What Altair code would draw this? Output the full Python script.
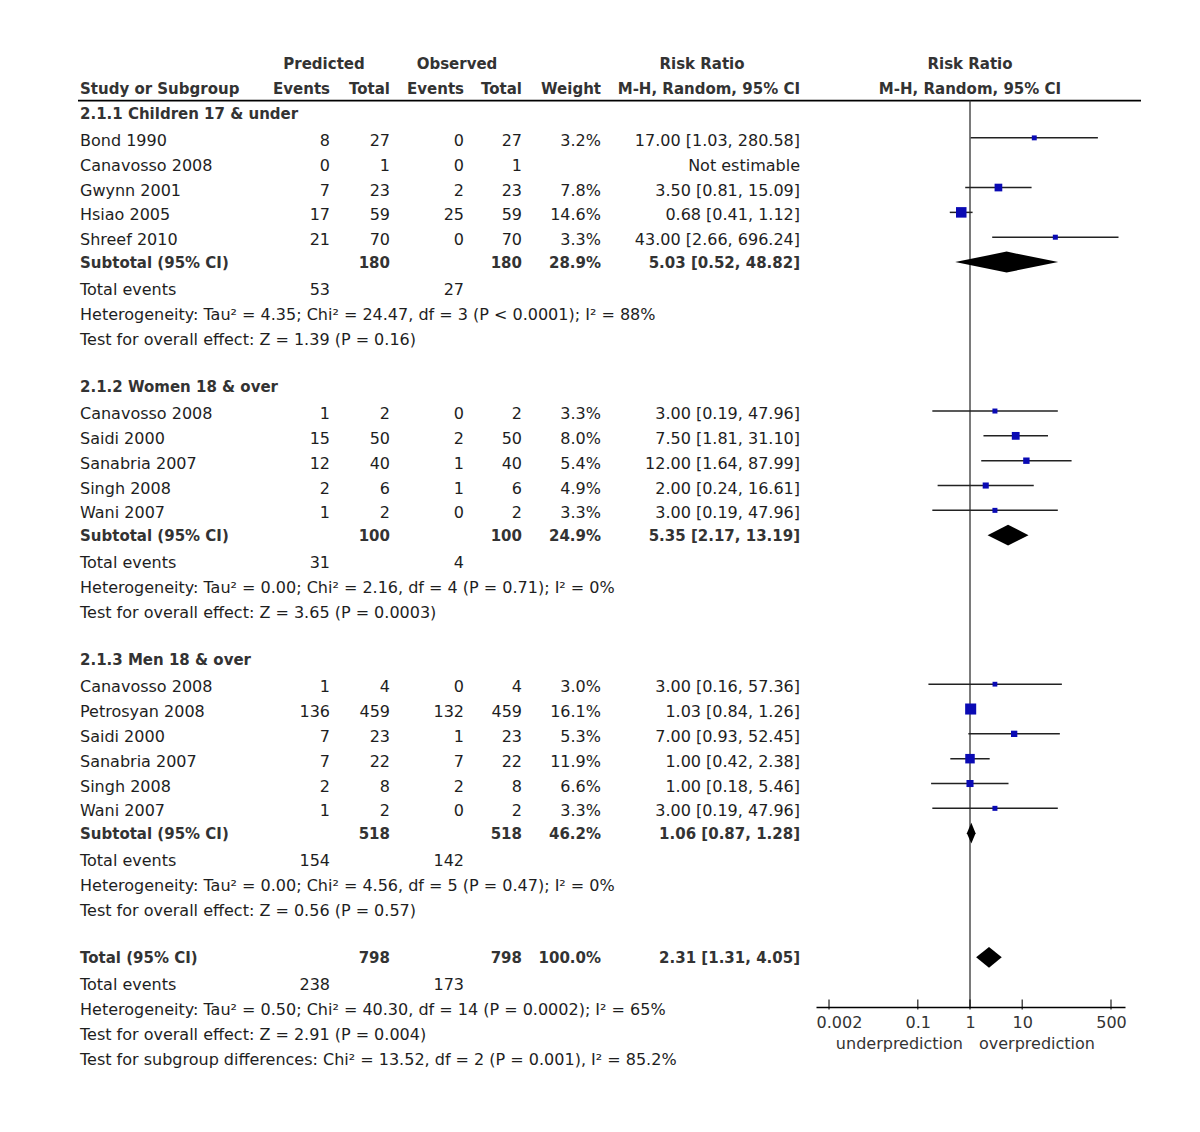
import altair as alt
import pandas as pd

# ------------------------------------------------------------------ data
group_names = ["2.1.1 Children 17 & under", "2.1.2 Women 18 & over", "2.1.3 Men 18 & over"]

children_studies = ["Bond 1990", "Canavosso 2008", "Gwynn 2001", "Hsiao 2005", "Shreef 2010"]
children_pred_events = [8, 0, 7, 17, 21]
children_pred_total = [27, 1, 23, 59, 70]
children_obs_events = [0, 0, 2, 25, 0]
children_obs_total = [27, 1, 23, 59, 70]
children_weight = [3.2, None, 7.8, 14.6, 3.3]
children_rr = [17.00, None, 3.50, 0.68, 43.00]
children_lo = [1.03, None, 0.81, 0.41, 2.66]
children_hi = [280.58, None, 15.09, 1.12, 696.24]

women_studies = ["Canavosso 2008", "Saidi 2000", "Sanabria 2007", "Singh 2008", "Wani 2007"]
women_pred_events = [1, 15, 12, 2, 1]
women_pred_total = [2, 50, 40, 6, 2]
women_obs_events = [0, 2, 1, 1, 0]
women_obs_total = [2, 50, 40, 6, 2]
women_weight = [3.3, 8.0, 5.4, 4.9, 3.3]
women_rr = [3.00, 7.50, 12.00, 2.00, 3.00]
women_lo = [0.19, 1.81, 1.64, 0.24, 0.19]
women_hi = [47.96, 31.10, 87.99, 16.61, 47.96]

men_studies = ["Canavosso 2008", "Petrosyan 2008", "Saidi 2000", "Sanabria 2007", "Singh 2008", "Wani 2007"]
men_pred_events = [1, 136, 7, 7, 2, 1]
men_pred_total = [4, 459, 23, 22, 8, 2]
men_obs_events = [0, 132, 1, 7, 2, 0]
men_obs_total = [4, 459, 23, 22, 8, 2]
men_weight = [3.0, 16.1, 5.3, 11.9, 6.6, 3.3]
men_rr = [3.00, 1.03, 7.00, 1.00, 1.00, 3.00]
men_lo = [0.16, 0.84, 0.93, 0.42, 0.18, 0.19]
men_hi = [57.36, 1.26, 52.45, 2.38, 5.46, 47.96]

subtotal_pred_total = [180, 100, 518]
subtotal_obs_total = [180, 100, 518]
subtotal_weight = [28.9, 24.9, 46.2]
subtotal_rr = [5.03, 5.35, 1.06]
subtotal_lo = [0.52, 2.17, 0.87]
subtotal_hi = [48.82, 13.19, 1.28]
subtotal_pred_events = [53, 31, 154]
subtotal_obs_events = [27, 4, 142]
subtotal_heterogeneity = [
    "Heterogeneity: Tau\u00b2 = 4.35; Chi\u00b2 = 24.47, df = 3 (P < 0.0001); I\u00b2 = 88%",
    "Heterogeneity: Tau\u00b2 = 0.00; Chi\u00b2 = 2.16, df = 4 (P = 0.71); I\u00b2 = 0%",
    "Heterogeneity: Tau\u00b2 = 0.00; Chi\u00b2 = 4.56, df = 5 (P = 0.47); I\u00b2 = 0%",
]
subtotal_effect = [
    "Test for overall effect: Z = 1.39 (P = 0.16)",
    "Test for overall effect: Z = 3.65 (P = 0.0003)",
    "Test for overall effect: Z = 0.56 (P = 0.57)",
]

overall_pred_total = 798
overall_obs_total = 798
overall_weight = 100.0
overall_rr = 2.31
overall_lo = 1.31
overall_hi = 4.05
overall_pred_events = 238
overall_obs_events = 173
overall_notes = [
    "Heterogeneity: Tau\u00b2 = 0.50; Chi\u00b2 = 40.30, df = 14 (P = 0.0002); I\u00b2 = 65%",
    "Test for overall effect: Z = 2.91 (P = 0.004)",
    "Test for subgroup differences: Chi\u00b2 = 13.52, df = 2 (P = 0.001), I\u00b2 = 85.2%",
]

tick_values = [0.002, 0.1, 1, 10, 500]
axis_side_labels = ["underprediction", "overprediction"]

# ------------------------------------------------------------------ tables
groups = [
    (children_studies, children_pred_events, children_pred_total, children_obs_events,
     children_obs_total, children_weight, children_rr, children_lo, children_hi),
    (women_studies, women_pred_events, women_pred_total, women_obs_events,
     women_obs_total, women_weight, women_rr, women_lo, women_hi),
    (men_studies, men_pred_events, men_pred_total, men_obs_events,
     men_obs_total, men_weight, men_rr, men_lo, men_hi),
]


def ci_text(rr, lo, hi):
    if rr is None:
        return "Not estimable"
    return f"{rr:.2f} [{lo:.2f}, {hi:.2f}]"


def wtxt(w):
    return "" if w is None else f"{w:.1f}%"


table_rows = []
study_points = []
diamonds = []


def add_row(row, label, pe="", pt="", oe="", ot="", w="", ci="", bold=False):
    table_rows.append(dict(row=row, label=label, pe=str(pe), pt=str(pt), oe=str(oe),
                           ot=str(ot), w=w, ci=ci, bold=bold))


def add_diamond(row, rr, lo, hi, half=0.42):
    diamonds.append(pd.DataFrame({
        "x": [lo, rr, hi],
        "ytop": [row, row - half, row],
        "ybot": [row, row + half, row],
    }))


r = 0
for gi, g in enumerate(groups):
    names, pe, pt, oe, ot, wt, rr, lo, hi = g
    add_row(r, group_names[gi], bold=True)
    r += 1
    for i in range(len(names)):
        add_row(r, names[i], pe[i], pt[i], oe[i], ot[i], wtxt(wt[i]), ci_text(rr[i], lo[i], hi[i]))
        if rr[i] is not None:
            study_points.append(dict(row=r, rr=rr[i], lo=lo[i], hi=hi[i], weight=wt[i]))
        r += 1
    add_row(r, "Subtotal (95% CI)", "", subtotal_pred_total[gi], "", subtotal_obs_total[gi],
            wtxt(subtotal_weight[gi]), ci_text(subtotal_rr[gi], subtotal_lo[gi], subtotal_hi[gi]), bold=True)
    add_diamond(r, subtotal_rr[gi], subtotal_lo[gi], subtotal_hi[gi])
    r += 1
    add_row(r, "Total events", subtotal_pred_events[gi], "", subtotal_obs_events[gi])
    add_row(r + 1, subtotal_heterogeneity[gi])
    add_row(r + 2, subtotal_effect[gi])
    r += 4

add_row(r, "Total (95% CI)", "", overall_pred_total, "", overall_obs_total,
        wtxt(overall_weight), ci_text(overall_rr, overall_lo, overall_hi), bold=True)
add_diamond(r, overall_rr, overall_lo, overall_hi)
add_row(r + 1, "Total events", overall_pred_events, "", overall_obs_events)
for k, note in enumerate(overall_notes):
    add_row(r + 2 + k, note)

table = pd.DataFrame(table_rows)
points = pd.DataFrame(study_points)
ticks_df = pd.DataFrame({"v": tick_values})

# ------------------------------------------------------------------ styles / scales
FONT = "DejaVu Sans"
TXT = "#1e1e1e"
BTXT = "#333333"
BLUE = "#0a0ab4"
AXIS_ROW = 36

XS = alt.Scale(type="log", domain=[0.001127, 926.9], range=[808, 1117], nice=False)
YS = alt.Scale(domain=[-4.23, AXIS_ROW], reverse=True, nice=False, zero=False)
XAXIS = alt.Axis(values=tick_values, title=None, grid=False, ticks=False, tickSize=0,
                 domainColor="black", domainWidth=1.5, labelFont=FONT, labelFontSize=16,
                 labelColor="#333333", labelPadding=7, format="~g", labelOverlap=False,
                 labelBound=False, labelFlush=False,
                 labelOffset={"condition": {"test": "datum.value < 0.01", "value": 10}, "value": 0})


def X(field):
    return alt.X(field, type="quantitative", scale=XS, axis=XAXIS)


def Y(field):
    return alt.Y(field, type="quantitative", scale=YS, axis=None)


layers = []

# header line
layers.append(
    alt.Chart(ticks_df.head(1)).mark_rule(color="black", strokeWidth=1.6).encode(
        x=alt.value(70), x2=alt.value(1133), y=alt.Y(datum=-0.5, scale=YS, axis=None))
)
# line of no effect
layers.append(
    alt.Chart(ticks_df.head(1)).mark_rule(color="#333333", strokeWidth=1.3).encode(
        x=alt.X(datum=1, scale=XS, axis=XAXIS),
        y=alt.Y(datum=-0.5, scale=YS, axis=None),
        y2=alt.Y2(datum=AXIS_ROW))
)
# confidence intervals
layers.append(
    alt.Chart(points).mark_rule(color="#222222", strokeWidth=1.5).encode(
        x=X("lo"), x2="hi", y=Y("row"))
)
# point estimates
layers.append(
    alt.Chart(points).mark_square(filled=True, color=BLUE, opacity=1).encode(
        x=X("rr"), y=Y("row"),
        size=alt.Size("weight:Q", scale=alt.Scale(type="linear", domain=[0, 16.1], range=[0, 122]),
                      legend=None))
)
# pooled diamonds (one area per diamond)
for d in diamonds:
    layers.append(
        alt.Chart(d).mark_area(color="black", orient="vertical", interpolate="linear",
                               opacity=1, fillOpacity=1).encode(
            x=X("x"), y=Y("ytop"), y2=alt.Y2("ybot"))
    )
# crossing axis ticks
layers.append(
    alt.Chart(ticks_df).mark_tick(orient="vertical", size=10, thickness=1.5, color="black").encode(
        x=X("v"), y=alt.Y(datum=AXIS_ROW - 0.1, scale=YS, axis=None))
)
# under/over prediction labels
layers.append(
    alt.Chart(ticks_df.head(1)).mark_text(align="right", baseline="middle", dx=-7, font=FONT,
                                          fontSize=16, color="#333333", text=axis_side_labels[0]).encode(
        x=alt.X(datum=1, scale=XS, axis=XAXIS), y=alt.Y(datum=AXIS_ROW + 1.5, scale=YS, axis=None))
)
layers.append(
    alt.Chart(ticks_df.head(1)).mark_text(align="left", baseline="middle", dx=9, font=FONT,
                                          fontSize=16, color="#333333", text=axis_side_labels[1]).encode(
        x=alt.X(datum=1, scale=XS, axis=XAXIS), y=alt.Y(datum=AXIS_ROW + 1.5, scale=YS, axis=None))
)

# table columns
columns = [("label", 72, "left"), ("pe", 322, "right"), ("pt", 382, "right"),
           ("oe", 456, "right"), ("ot", 514, "right"), ("w", 593, "right"), ("ci", 792, "right")]
for bold in (False, True):
    sub = table[table["bold"] == bold]
    for field, xpx, align in columns:
        layers.append(
            alt.Chart(sub).mark_text(align=align, baseline="middle", font=FONT,
                                     fontSize=15 if bold else 16,
                                     fontWeight="bold" if bold else "normal",
                                     dy=1 if bold else 3,
                                     color=BTXT if bold else TXT).encode(
                x=alt.value(xpx), y=Y("row"), text=alt.Text(f"{field}:N"))
        )

# column headers
headers = [
    ("Predicted", -2, 316, "center"), ("Observed", -2, 449, "center"), ("Risk Ratio", -2, 694, "center"),
    ("Study or Subgroup", -1, 72, "left"), ("Events", -1, 322, "right"), ("Total", -1, 382, "right"),
    ("Events", -1, 456, "right"), ("Total", -1, 514, "right"), ("Weight", -1, 593, "right"),
    ("M-H, Random, 95% CI", -1, 792, "right"),
]
for text, row, xpx, align in headers:
    layers.append(
        alt.Chart(ticks_df.head(1)).mark_text(align=align, baseline="middle", font=FONT, fontSize=15,
                                              fontWeight="bold", dy=1, color=BTXT, text=text).encode(
            x=alt.value(xpx), y=alt.Y(datum=row, scale=YS, axis=None))
    )
for text, row in [("Risk Ratio", -2), ("M-H, Random, 95% CI", -1)]:
    layers.append(
        alt.Chart(ticks_df.head(1)).mark_text(align="center", baseline="middle", font=FONT, fontSize=15,
                                              fontWeight="bold", dy=1, color=BTXT, text=text).encode(
            x=alt.X(datum=1, scale=XS, axis=XAXIS), y=alt.Y(datum=row, scale=YS, axis=None))
    )

chart = alt.layer(*layers).properties(width=1184, height=999, padding=0, background="white")
chart = chart.configure_view(stroke=None)

chart.save("out.html", embed_options={"renderer": "svg", "actions": False})
